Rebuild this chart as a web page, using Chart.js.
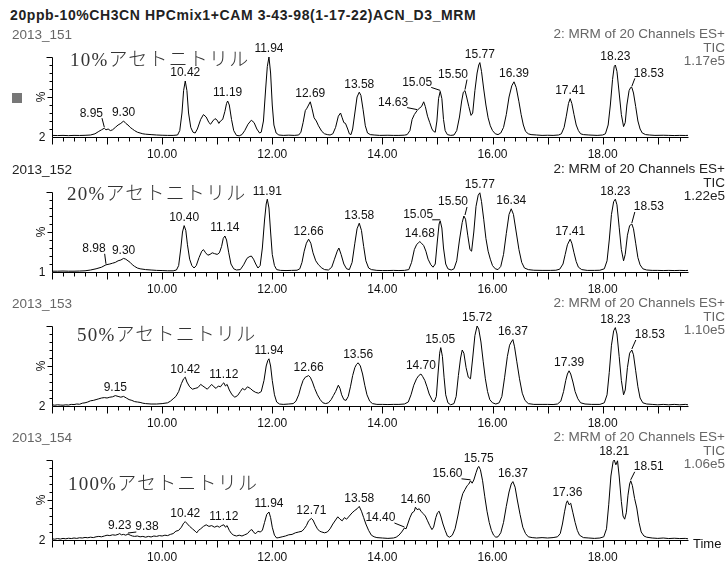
<!DOCTYPE html>
<html lang="ja">
<head>
<meta charset="UTF-8">
<title>20ppb-10%CH3CN HPCmix1+CAM — MRM TIC</title>
<script src="https://cdn.jsdelivr.net/npm/chart.js@4.4.0/dist/chart.umd.min.js"></script>
<style>
  * { margin: 0; padding: 0; box-sizing: border-box; }
  body { width: 727px; height: 564px; overflow: hidden; background: #fff; position: relative;
         font-family: 'Liberation Sans', Arial, sans-serif; }
  canvas { position: absolute; left: 0; }
  .txt { position: absolute; white-space: nowrap; font-size: 13.5px; line-height: 14px; color: #666; }
  .dark { color: #222; }
  .r { right: 2px; text-align: right; }
  .title { left: 10px; top: 8px; font-weight: bold; font-size: 14px; letter-spacing: 0.6px; color: #222; }
  .solv { position: absolute; white-space: nowrap; font-family: 'Liberation Serif', 'Noto Sans CJK JP', serif;
          font-size: 19px; line-height: 22px; letter-spacing: 1.2px; color: #333; font-weight: 300; }
  .mark { position: absolute; left: 12px; top: 93px; width: 10px; height: 10px; background: #777; }
</style>
</head>
<body>

<div class="txt title">20ppb-10%CH3CN HPCmix1+CAM 3-43-98(1-17-22)ACN_D3_MRM</div>
<div class="mark"></div>

<script>
// ---- data ----
const panelIds     = ['2013_151', '2013_152', '2013_153', '2013_154'];
const solvents     = ['10%アセトニトリル', '20%アセトニトリル', '50%アセトニトリル', '100%アセトニトリル'];
const ticValues    = ['1.17e5', '1.22e5', '1.10e5', '1.06e5'];
const minLabels    = ['2', '1', '2', '2'];
const channelText  = '2: MRM of 20 Channels ES+';
const xLabelValues = [10, 12, 14, 16, 18];
const yTickValues  = [0, 10, 20, 30, 40, 50, 60, 70, 80, 90, 100];

// [time (min), intensity (%)]
const trace10 = [
  [8.00,2],[8.10,1.8],[8.20,2],[8.30,1.7],[8.40,2],[8.50,1.9],[8.60,2.1],[8.70,2.5],[8.78,4],[8.85,7],
  [8.90,9],[8.95,11],[8.98,9],[9.02,10],[9.06,8],[9.10,9],[9.15,12],[9.20,15],[9.25,17],[9.30,20],
  [9.34,17],[9.38,15],[9.42,12],[9.46,10],[9.50,8],[9.55,6],[9.60,5],[9.65,4],[9.70,3.5],[9.80,3],
  [9.90,2.5],[10.00,2.2],[10.10,2],[10.20,2],[10.28,2.5],[10.32,8],[10.36,30],[10.39,58],[10.42,70],[10.45,58],
  [10.48,30],[10.52,12],[10.56,6],[10.60,5],[10.64,10],[10.70,22],[10.75,28],[10.80,25],[10.85,18],[10.88,16],
  [10.92,20],[10.96,23],[11.00,21],[11.03,17],[11.06,20],[11.10,22],[11.14,32],[11.17,42],[11.19,45],[11.22,40],
  [11.26,22],[11.30,8],[11.35,2],[11.40,1.5],[11.45,3],[11.50,8],[11.56,16],[11.62,21],[11.67,18],[11.72,10],
  [11.77,5],[11.80,6],[11.84,20],[11.88,60],[11.91,88],[11.94,100],[11.97,80],[12.00,40],[12.03,15],[12.07,5],
  [12.12,2.5],[12.20,2],[12.30,2.3],[12.40,2],[12.48,2.5],[12.52,6],[12.56,18],[12.60,33],[12.63,36],[12.66,40],
  [12.69,44],[12.72,36],[12.76,24],[12.80,20],[12.84,14],[12.90,7],[12.95,4],[13.00,3],[13.05,2.5],[13.10,4],
  [13.15,12],[13.20,26],[13.24,30],[13.27,24],[13.30,18],[13.33,17],[13.37,10],[13.40,4],[13.43,3],[13.46,10],
  [13.50,30],[13.54,50],[13.58,56],[13.61,52],[13.65,34],[13.69,14],[13.73,5],[13.78,3],[13.85,2.5],[13.95,2],
  [14.10,2.2],[14.20,2],[14.30,2],[14.40,2.3],[14.45,3],[14.50,8],[14.54,22],[14.58,28],[14.63,33],[14.67,36],
  [14.71,38],[14.75,44],[14.78,38],[14.82,26],[14.86,18],[14.90,10],[14.93,7],[14.96,6],[14.99,20],[15.02,48],
  [15.05,57],[15.08,48],[15.11,22],[15.14,8],[15.18,3],[15.24,2],[15.30,2.5],[15.35,8],[15.40,25],[15.44,45],
  [15.47,56],[15.50,58],[15.53,50],[15.57,38],[15.61,27],[15.64,30],[15.68,58],[15.72,80],[15.75,90],[15.77,93],
  [15.80,82],[15.84,60],[15.88,40],[15.92,24],[15.96,14],[16.00,8],[16.05,4],[16.10,3],[16.15,5],[16.20,12],
  [16.25,28],[16.30,50],[16.35,64],[16.39,69],[16.43,62],[16.48,44],[16.52,28],[16.56,15],[16.60,7],[16.65,4],
  [16.70,3],[16.80,2.5],[16.90,2],[17.00,2.2],[17.10,2],[17.20,2.5],[17.25,4],[17.30,12],[17.34,26],[17.38,42],
  [17.41,48],[17.44,42],[17.48,28],[17.52,15],[17.56,8],[17.60,4],[17.65,3],[17.75,2.5],[17.90,2],[18.00,2.5],
  [18.05,4],[18.10,15],[18.14,40],[18.18,72],[18.21,88],[18.23,90],[18.26,82],[18.30,55],[18.34,28],[18.38,13],
  [18.41,18],[18.44,40],[18.48,58],[18.51,62],[18.53,62],[18.56,55],[18.60,38],[18.64,20],[18.68,10],[18.72,5],
  [18.78,3],[18.85,2.5],[18.95,2],[19.10,2.2],[19.20,2],[19.30,1.8],[19.40,2],[19.50,1.9],[19.55,2]
];
const trace20 = [
  [8.00,1],[8.10,1],[8.20,1.2],[8.30,1],[8.40,1],[8.50,1.2],[8.60,1.5],[8.70,2.5],[8.80,4],[8.90,6],
  [8.98,9],[9.05,10],[9.10,11],[9.15,12],[9.20,14],[9.25,15],[9.30,17],[9.34,16],[9.38,14],[9.42,12],
  [9.46,9],[9.50,7],[9.55,5],[9.60,4],[9.70,3],[9.80,2.5],[9.90,2],[10.00,1.8],[10.10,1.5],[10.20,1.5],
  [10.26,2.5],[10.30,8],[10.34,30],[10.37,50],[10.40,58],[10.43,52],[10.46,34],[10.50,16],[10.54,8],[10.58,5],
  [10.62,8],[10.67,18],[10.72,26],[10.75,28],[10.79,24],[10.83,21],[10.87,22],[10.91,24],[10.95,23],[11.00,22],
  [11.04,24],[11.08,32],[11.11,42],[11.14,45],[11.17,40],[11.21,24],[11.25,10],[11.30,4],[11.35,2.5],[11.42,3],
  [11.48,9],[11.54,17],[11.58,19],[11.62,20],[11.66,16],[11.70,10],[11.74,5],[11.78,8],[11.82,30],[11.86,65],
  [11.89,85],[11.91,91],[11.94,80],[11.97,50],[12.00,22],[12.04,8],[12.08,3],[12.15,2],[12.25,1.8],[12.35,2],
  [12.45,2.2],[12.50,4],[12.54,12],[12.58,26],[12.62,36],[12.66,41],[12.70,36],[12.74,24],[12.79,14],[12.84,9],
  [12.90,5],[12.95,3],[13.02,2.5],[13.08,6],[13.13,16],[13.18,26],[13.21,30],[13.25,22],[13.30,10],[13.35,4],
  [13.40,3],[13.45,12],[13.50,36],[13.54,54],[13.58,61],[13.62,52],[13.66,32],[13.70,14],[13.75,5],[13.80,3],
  [13.90,2],[14.00,1.8],[14.10,1.8],[14.20,2],[14.30,1.8],[14.40,2],[14.48,3],[14.53,12],[14.58,28],[14.62,34],
  [14.66,37],[14.68,38],[14.71,36],[14.75,33],[14.79,26],[14.83,16],[14.88,9],[14.92,6],[14.96,10],[15.00,40],
  [15.03,60],[15.05,64],[15.08,55],[15.11,30],[15.15,10],[15.19,4],[15.25,2.5],[15.30,4],[15.35,14],[15.40,40],
  [15.45,62],[15.48,70],[15.51,66],[15.55,46],[15.59,28],[15.62,26],[15.66,50],[15.70,82],[15.74,96],[15.77,99],
  [15.80,88],[15.84,66],[15.88,42],[15.92,26],[15.96,16],[16.00,8],[16.05,4],[16.10,3],[16.15,7],[16.20,22],
  [16.25,48],[16.30,72],[16.34,79],[16.38,72],[16.43,50],[16.48,28],[16.53,12],[16.58,5],[16.65,3],[16.75,2.2],
  [16.90,2],[17.05,2],[17.15,2.2],[17.22,3.5],[17.28,10],[17.32,22],[17.36,34],[17.41,41],[17.44,36],[17.48,24],
  [17.52,13],[17.56,6],[17.62,3],[17.72,2],[17.85,2],[17.95,2.2],[18.03,4],[18.08,14],[18.12,40],[18.16,72],
  [18.20,88],[18.23,91],[18.26,84],[18.30,56],[18.34,28],[18.38,14],[18.41,22],[18.45,46],[18.49,58],[18.53,60],
  [18.56,54],[18.60,36],[18.64,18],[18.68,9],[18.73,4],[18.80,2.5],[18.90,2],[19.00,2],[19.10,1.8],[19.20,2],
  [19.30,1.8],[19.40,2],[19.50,1.8],[19.55,2]
];
const trace50 = [
  [8.00,1.5],[8.05,1],[8.10,1.5],[8.15,1.2],[8.20,1],[8.25,1.5],[8.30,1.2],[8.35,2],[8.40,1.8],[8.45,2.5],
  [8.50,2.2],[8.55,3.5],[8.60,4],[8.65,5],[8.70,6.5],[8.75,7],[8.80,8],[8.85,9],[8.90,10],[8.95,10.5],
  [9.00,10],[9.05,11],[9.10,11.5],[9.15,13],[9.20,12],[9.25,11],[9.30,12],[9.35,10],[9.40,8],[9.45,7],
  [9.50,5.5],[9.55,5],[9.60,4.5],[9.65,3.5],[9.70,3],[9.80,2.5],[9.90,2.5],[10.00,3],[10.10,4],[10.15,6],
  [10.20,9],[10.25,12],[10.30,18],[10.35,28],[10.39,34],[10.42,36],[10.45,30],[10.50,24],[10.55,21],[10.60,22],
  [10.65,23],[10.70,27],[10.74,25],[10.78,23],[10.82,21],[10.86,24],[10.90,27],[10.94,24],[10.98,22],[11.02,25],
  [11.06,24],[11.09,27],[11.12,29],[11.15,25],[11.18,27],[11.22,20],[11.27,14],[11.32,11],[11.37,13],[11.42,18],
  [11.46,22],[11.50,20],[11.55,24],[11.60,22],[11.65,19],[11.70,17],[11.75,16],[11.80,18],[11.85,32],[11.89,50],
  [11.92,57],[11.94,59],[11.97,50],[12.00,32],[12.04,14],[12.08,5],[12.13,2.5],[12.20,2],[12.30,2.5],[12.38,3],
  [12.43,6],[12.48,14],[12.52,24],[12.56,32],[12.60,36],[12.63,37],[12.66,38],[12.69,36],[12.73,30],[12.77,22],
  [12.82,14],[12.87,8],[12.92,4],[12.97,3],[13.02,4],[13.07,8],[13.11,13],[13.15,18],[13.20,26],[13.23,22],
  [13.26,14],[13.30,8],[13.34,7],[13.38,12],[13.42,24],[13.46,38],[13.50,48],[13.53,52],[13.56,54],[13.60,50],
  [13.64,40],[13.68,26],[13.72,14],[13.77,6],[13.82,3],[13.90,2],[14.00,2],[14.10,1.8],[14.20,2],[14.30,2],
  [14.40,2.5],[14.47,5],[14.52,14],[14.57,26],[14.62,34],[14.66,38],[14.70,40],[14.73,37],[14.77,32],[14.81,24],
  [14.85,15],[14.90,8],[14.94,5],[14.98,12],[15.01,40],[15.04,66],[15.06,73],[15.09,62],[15.12,36],[15.15,14],
  [15.19,4],[15.24,1.5],[15.30,3],[15.34,12],[15.38,38],[15.42,60],[15.45,70],[15.48,66],[15.52,48],[15.56,36],
  [15.60,34],[15.64,60],[15.68,88],[15.72,100],[15.75,96],[15.79,80],[15.83,56],[15.87,34],[15.91,18],[15.95,8],
  [16.00,4],[16.06,2.5],[16.12,4],[16.17,12],[16.22,36],[16.27,62],[16.31,76],[16.34,80],[16.37,83],[16.40,74],
  [16.44,56],[16.49,34],[16.54,16],[16.59,7],[16.65,3],[16.75,2],[16.90,2],[17.00,2],[17.10,1.8],[17.18,2.5],
  [17.24,6],[17.29,18],[17.33,32],[17.36,40],[17.39,44],[17.42,40],[17.46,30],[17.50,18],[17.55,9],[17.60,4],
  [17.68,2.5],[17.80,2],[17.95,2],[18.03,4],[18.08,14],[18.12,42],[18.16,76],[18.20,94],[18.23,98],[18.26,90],
  [18.30,62],[18.34,32],[18.38,14],[18.41,20],[18.45,48],[18.49,66],[18.53,70],[18.56,64],[18.60,44],[18.64,24],
  [18.68,10],[18.73,4],[18.80,2.5],[18.90,2],[19.00,1.5],[19.10,2],[19.20,1.5],[19.30,2],[19.40,1.5],[19.50,2],
  [19.55,1.5]
];
const trace100 = [
  [8.00,1.5],[8.05,1],[8.10,1.8],[8.15,1.2],[8.20,2],[8.25,1.5],[8.30,2.2],[8.35,1.8],[8.40,2.5],[8.45,2],
  [8.50,2.8],[8.55,2.5],[8.60,3.2],[8.65,2.8],[8.70,3.5],[8.75,3],[8.80,4],[8.85,4.5],[8.90,4],[8.95,5],
  [9.00,6],[9.05,5.5],[9.10,6.5],[9.15,6],[9.20,7],[9.23,8],[9.26,6.5],[9.30,7],[9.34,6],[9.38,7.5],
  [9.42,6],[9.46,5],[9.50,4.5],[9.55,5],[9.60,4],[9.65,4.5],[9.70,3.5],[9.75,4.5],[9.80,3.8],[9.85,5],
  [9.90,4.5],[9.95,5.5],[10.00,5],[10.05,6],[10.10,5.5],[10.15,7],[10.20,8],[10.25,11],[10.30,12],[10.35,16],
  [10.39,21],[10.42,23],[10.46,20],[10.50,17],[10.55,14],[10.60,11],[10.63,9],[10.66,12],[10.70,14],[10.75,17],
  [10.80,19],[10.85,17],[10.90,18],[10.95,16],[11.00,17.5],[11.04,16],[11.08,18],[11.12,19],[11.15,16],[11.18,18],
  [11.22,12],[11.26,8],[11.30,6],[11.35,5],[11.40,6],[11.45,5],[11.50,6.5],[11.55,8],[11.60,12],[11.63,13],
  [11.67,9],[11.70,8],[11.74,11],[11.78,10],[11.82,12],[11.86,22],[11.90,32],[11.94,35],[11.97,28],[12.00,16],
  [12.04,6],[12.08,2.5],[12.12,3],[12.18,4],[12.24,5],[12.30,6.5],[12.36,7],[12.42,9],[12.48,10],[12.54,11],
  [12.58,14],[12.62,18],[12.66,24],[12.71,27],[12.74,25],[12.78,19],[12.82,14],[12.86,11],[12.90,10],[12.95,9],
  [13.00,10],[13.05,14],[13.10,20],[13.15,25],[13.19,29],[13.23,26],[13.27,24],[13.31,28],[13.35,26],[13.40,30],
  [13.45,34],[13.50,37],[13.54,39],[13.58,42],[13.62,36],[13.66,28],[13.70,20],[13.75,12],[13.80,6],[13.85,4],
  [13.90,3],[14.00,2.5],[14.10,2],[14.20,2.5],[14.25,3.5],[14.30,6],[14.35,10],[14.40,15],[14.43,14],[14.46,20],
  [14.50,28],[14.54,34],[14.58,36],[14.60,41],[14.63,38],[14.67,39],[14.70,36],[14.74,33],[14.78,30],[14.82,24],
  [14.86,18],[14.90,13],[14.93,16],[14.97,28],[15.00,34],[15.03,36],[15.06,30],[15.10,20],[15.14,12],[15.18,5],
  [15.22,3.5],[15.27,6],[15.32,14],[15.37,30],[15.42,48],[15.46,58],[15.50,63],[15.54,68],[15.57,70],[15.60,74],
  [15.63,71],[15.66,75],[15.70,84],[15.73,90],[15.75,92],[15.78,88],[15.82,74],[15.86,54],[15.90,36],[15.94,22],
  [15.98,12],[16.02,6],[16.06,3.5],[16.10,4],[16.15,9],[16.20,22],[16.25,42],[16.30,60],[16.34,70],[16.37,73],
  [16.41,66],[16.45,50],[16.50,32],[16.55,16],[16.60,8],[16.65,4],[16.72,3],[16.80,2.5],[16.90,3],[17.00,2.5],
  [17.10,3],[17.18,4],[17.23,8],[17.27,20],[17.31,36],[17.34,46],[17.36,49],[17.39,44],[17.42,46],[17.46,34],
  [17.50,22],[17.54,12],[17.58,6],[17.65,3],[17.75,2.5],[17.85,2],[17.95,2.5],[18.02,4],[18.07,14],[18.11,44],
  [18.15,80],[18.19,98],[18.21,100],[18.24,94],[18.27,99],[18.30,80],[18.34,48],[18.37,30],[18.40,26],[18.43,34],
  [18.46,56],[18.49,70],[18.51,74],[18.54,68],[18.58,52],[18.62,40],[18.66,22],[18.70,10],[18.75,5],[18.80,3.5],
  [18.90,2.5],[19.00,2],[19.10,2.5],[19.20,1.8],[19.30,2.2],[19.40,1.8],[19.50,2],[19.55,1.5]
];

// labelled peaks: [time, height %]
const peaks10  = [[8.95,11],[9.30,20],[10.42,70],[11.19,45],[11.94,100],[12.69,44],[13.58,56],[14.63,33],
                  [15.05,57],[15.50,58],[15.77,93],[16.39,69],[17.41,48],[18.23,90],[18.53,62]];
const peaks20  = [[8.98,9],[9.30,17],[10.40,58],[11.14,45],[11.91,91],[12.66,41],[13.58,61],[14.68,38],
                  [15.05,64],[15.50,70],[15.77,99],[16.34,79],[17.41,41],[18.23,91],[18.53,60]];
const peaks50  = [[9.15,13],[10.42,36],[11.12,29],[11.94,59],[12.66,38],[13.56,54],[14.70,40],[15.05,73],
                  [15.72,100],[16.37,83],[17.39,44],[18.23,98],[18.53,70]];
const peaks100 = [[9.23,8],[9.38,7.5],[10.42,23],[11.12,19],[11.94,35],[12.71,27],[13.58,42],[14.40,15],
                  [14.60,41],[15.60,74],[15.75,92],[16.37,73],[17.36,49],[18.21,100],[18.51,74]];

const traces = [trace10, trace20, trace50, trace100];
const peaks  = [peaks10, peaks20, peaks50, peaks100];

// ---- layout ----
const PANEL_TOP = [57, 192, 326, 460];
const PANEL_H   = 80;
const PAD       = { left: 52, right: 39, top: 24, bottom: 26 };
const SOLVENT_POS = [[70, 49], [67, 183], [77, 324], [68, 473]];
const DARK_HEADER = [false, true, false, false];
// labels moved off their peak with a leader line: [dx, dy] px from the tip
const LABEL_SHIFT = [
  { '8.95': [-13, -15], '14.63': [-24, -8], '15.05': [-23, -9], '15.50': [-12, -16], '18.53': [17, -14] },
  { '8.98': [-12, -16], '15.05': [-22, -6], '15.50': [-12, -14], '18.53': [17, -17] },
  { '18.53': [18, -15] },
  { '9.38': [19, -7], '14.40': [-24, -10], '15.60': [-23, -7], '18.51': [18, -14] }
];

const FONT = '12px "Liberation Sans", Arial, sans-serif';

const chromPlugin = {
  id: 'chrom',
  afterDatasetsDraw(chart, args, opts) {
    const { ctx, chartArea: a, scales: { x, y } } = chart;
    const L = Math.round(a.left) + 0.5;
    const B = Math.round(a.bottom) + 0.5;
    ctx.save();
    ctx.strokeStyle = '#000';
    ctx.fillStyle = '#111';
    ctx.lineWidth = 1;

    // axes + ticks
    ctx.beginPath();
    ctx.moveTo(L, Math.round(a.top) + 0.5);
    ctx.lineTo(L, B);
    ctx.lineTo(Math.round(a.right) + 0.5, B);
    yTickValues.forEach(v => {
      if (v === 0) return;
      const py = Math.round(y.getPixelForValue(v)) + 0.5;
      const len = v === 100 ? 6 : (v === 50 ? 5 : 3);
      ctx.moveTo(L - len, py);
      ctx.lineTo(L, py);
    });
    for (let k = Math.ceil(x.min * 5); k <= Math.floor(x.max * 5); k++) {
      const px = Math.round(x.getPixelForValue(k / 5)) + 0.5;
      ctx.moveTo(px, B);
      ctx.lineTo(px, B + (k % 5 === 0 ? 7 : 4));
    }
    ctx.stroke();

    ctx.font = FONT;
    ctx.textBaseline = 'middle';
    ctx.textAlign = 'center';
    xLabelValues.forEach(v => ctx.fillText(v.toFixed(2), x.getPixelForValue(v), B + 17));
    ctx.textAlign = 'right';
    ctx.fillText(opts.minLabel, L - 7, B);

    ctx.save();
    ctx.translate(L - 11, y.getPixelForValue(50));
    ctx.rotate(-Math.PI / 2);
    ctx.textAlign = 'center';
    ctx.fillText('%', 0, 0);
    ctx.restore();

    // peak labels
    ctx.textAlign = 'center';
    opts.peaks.forEach(([t, h]) => {
      const label = t.toFixed(2);
      const px = x.getPixelForValue(t);
      const py = y.getPixelForValue(h);
      const s = opts.shift[label];
      if (s) {
        const cx = px + s[0], cy = py + s[1];
        const w = ctx.measureText(label).width;
        const sx = s[0] < 0 ? cx + w / 2 - 1 : cx - w / 2 + 1;
        ctx.beginPath();
        ctx.moveTo(sx, cy + 5);
        ctx.lineTo(px, py - 1);
        ctx.stroke();
        ctx.fillText(label, cx, cy);
      } else {
        ctx.fillText(label, px, py - 8);
      }
    });

    if (opts.showTime) {
      ctx.textAlign = 'left';
      ctx.font = '13px "Liberation Sans", Arial, sans-serif';
      ctx.fillText('Time', a.right + 5, B + 4);
    }
    ctx.restore();
  }
};

function addText(cls, text, css) {
  const d = document.createElement('div');
  d.className = cls;
  d.textContent = text;
  Object.assign(d.style, css);
  document.body.appendChild(d);
}

panelIds.forEach((id, i) => {
  const top = PANEL_TOP[i];
  const shade = DARK_HEADER[i] ? ' dark' : '';
  addText('txt' + shade, id, { left: '12px', top: (top - 29) + 'px' });
  addText('txt r' + shade, channelText, { top: (top - 30) + 'px' });
  addText('txt r' + shade, 'TIC', { top: (top - 16) + 'px' });
  addText('txt r' + shade, ticValues[i], { top: (top - 3) + 'px' });
  addText('solv', solvents[i], { left: SOLVENT_POS[i][0] + 'px', top: SOLVENT_POS[i][1] + 'px' });

  const cv = document.createElement('canvas');
  cv.width = 727;
  cv.height = PAD.top + PANEL_H + PAD.bottom;
  cv.style.top = (top - PAD.top) + 'px';
  document.body.insertBefore(cv, document.body.firstChild);

  new Chart(cv, {
    type: 'line',
    data: {
      datasets: [{
        data: traces[i].map(([t, v]) => ({ x: t, y: v })),
        borderColor: '#000',
        borderWidth: 1,
        pointRadius: 0,
        tension: 0,
        fill: false,
      }],
    },
    options: {
      responsive: false,
      animation: false,
      devicePixelRatio: 1,
      layout: { padding: PAD },
      scales: {
        x: { type: 'linear', min: 8.0, max: 19.55, display: false },
        y: { min: 0, max: 100, display: false },
      },
      plugins: {
        legend: { display: false },
        tooltip: { enabled: false },
        chrom: { peaks: peaks[i], shift: LABEL_SHIFT[i], minLabel: minLabels[i], showTime: i === 3 },
      },
    },
    plugins: [chromPlugin],
  });
});
</script>
</body>
</html>
